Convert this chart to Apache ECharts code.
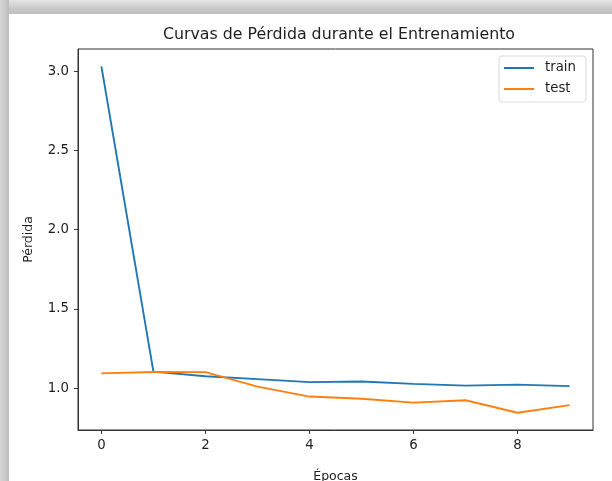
<!DOCTYPE html>
<html>
<head>
<meta charset="utf-8">
<script src="https://cdn.jsdelivr.net/npm/echarts@6/dist/echarts.min.js"></script>
<style>
  html, body { margin: 0; padding: 0; background: #ffffff; }
  #chart { width: 612px; height: 481px; }
</style>
</head>
<body>
<div id="chart"></div>
<script>
// Loss curves per training epoch
const epochs = [0, 1, 2, 3, 4, 5, 6, 7, 8, 9];
const trainLoss = [3.03, 1.104, 1.075, 1.057, 1.038, 1.042, 1.027, 1.016, 1.022, 1.013];
const testLoss  = [1.093, 1.102, 1.101, 1.010, 0.947, 0.933, 0.909, 0.924, 0.845, 0.893];
const xTicks = [0, 2, 4, 6, 8];
const yTicks = [1.0, 1.5, 2.0, 2.5, 3.0];

const textColor = '#1e1e1e';
const font = 'DejaVu Sans';

const chart = echarts.init(document.getElementById('chart'), null, { renderer: 'canvas' });

const toPairs = (vals) => epochs.map((e, i) => [e, vals[i]]);

chart.setOption({
  animation: false,
  backgroundColor: '#ffffff',
  textStyle: { fontFamily: font, color: textColor },
  title: {
    text: 'Curvas de Pérdida durante el Entrenamiento',
    left: 334,
    textAlign: 'center',
    top: 22,
    textStyle: { fontFamily: font, fontSize: 15.8, fontWeight: 'normal', color: textColor }
  },
  legend: {
    orient: 'vertical',
    left: 499,
    top: 56,
    padding: [5, 10, 6, 5],
    itemGap: 7,
    itemWidth: 30,
    itemHeight: 2,
    icon: 'rect',
    borderColor: '#d9d9d9',
    borderWidth: 1,
    borderRadius: 3,
    backgroundColor: 'rgba(255,255,255,0.8)',
    textStyle: { fontFamily: font, fontSize: 13.3, color: textColor, lineHeight: 14, padding: [0, 0, 0, 6] },
    data: ['train', 'test']
  },
  grid: {
    left: 78, right: 19, top: 49, bottom: 51,
    containLabel: false,
    outerBoundsMode: 'none',
    show: true, borderColor: '#333333', borderWidth: 1, backgroundColor: '#ffffff'
  },
  xAxis: {
    type: 'value',
    min: -0.45,
    max: 9.45,
    name: 'Épocas',
    nameLocation: 'middle',
    nameGap: 40,
    nameTextStyle: { fontFamily: font, fontSize: 12.5, color: textColor },
    axisLine: { show: true, onZero: false, lineStyle: { color: '#333333', width: 1 } },
    axisTick: { show: true, length: 4, lineStyle: { color: '#333333' }, customValues: xTicks },
    axisLabel: { fontFamily: font, fontSize: 13.3, color: textColor, margin: 9, customValues: xTicks,
                 formatter: (v) => String(v) },
    splitLine: { show: false }
  },
  yAxis: {
    type: 'value',
    min: 0.736,
    max: 3.14,
    name: 'Pérdida',
    nameLocation: 'middle',
    nameGap: 43,
    nameTextStyle: { fontFamily: font, fontSize: 12.5, color: textColor },
    axisLine: { show: true, onZero: false, lineStyle: { color: '#333333', width: 1 } },
    axisTick: { show: true, length: 4, lineStyle: { color: '#333333' }, customValues: yTicks },
    axisLabel: { fontFamily: font, fontSize: 13.3, color: textColor, margin: 9, customValues: yTicks,
                 formatter: (v) => v.toFixed(1) },
    splitLine: { show: false }
  },
  series: [
    {
      name: 'train', type: 'line', data: toPairs(trainLoss),
      showSymbol: false, symbol: 'none',
      itemStyle: { color: '#1f77b4' },
      lineStyle: { color: '#1f77b4', width: 1.9 }
    },
    {
      name: 'test', type: 'line', data: toPairs(testLoss),
      showSymbol: false, symbol: 'none',
      itemStyle: { color: '#ff7f0e' },
      lineStyle: { color: '#ff7f0e', width: 1.9 }
    }
  ],
  // shaded frame along the top and left edges of the page
  graphic: [
    {
      type: 'rect', left: 0, top: 0, z: 100,
      shape: { width: 612, height: 14 },
      style: {
        fill: new echarts.graphic.LinearGradient(0, 0, 0, 1, [
          { offset: 0, color: '#e4e4e4' },
          { offset: 0.6, color: '#c9c9c9' },
          { offset: 1, color: '#bdbdbd' }
        ])
      }
    },
    {
      type: 'rect', left: 0, top: 0, z: 100,
      shape: { width: 9, height: 481 },
      style: {
        fill: new echarts.graphic.LinearGradient(0, 0, 1, 0, [
          { offset: 0, color: '#d6d6d6' },
          { offset: 0.4, color: '#cdcdcd' },
          { offset: 1, color: '#bcbcbc' }
        ])
      }
    }
  ]
});
</script>
</body>
</html>
